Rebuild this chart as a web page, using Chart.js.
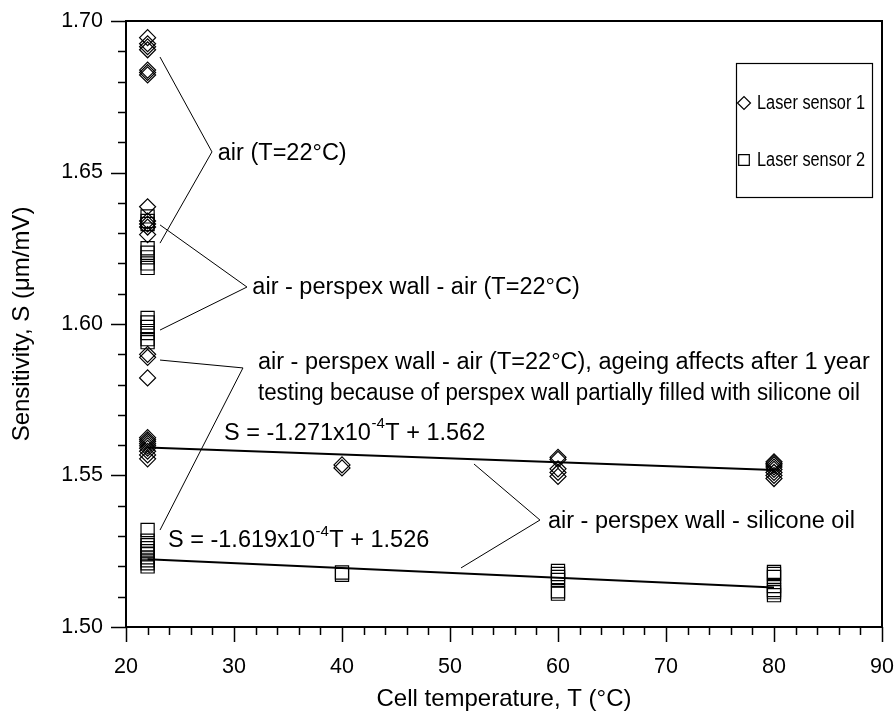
<!DOCTYPE html>
<html><head><meta charset="utf-8">
<script src="https://cdn.jsdelivr.net/npm/chart.js@4/dist/chart.umd.min.js"></script>
<style>html,body{margin:0;padding:0;background:#fff}canvas{display:block}</style>
</head><body>
<canvas id="c" width="896" height="715"></canvas>
<script>
const FONT = '"Liberation Sans", Arial, Helvetica, sans-serif';

// ---------- data ----------
const seriesLabels = ['Laser sensor 1', 'Laser sensor 2'];
const temps = [22, 40, 60, 80];
// Laser sensor 1 (diamonds)
const s1At22 = [1.6945, 1.6925, 1.6915, 1.6905, 1.6838, 1.6830, 1.6822,
                1.6387, 1.6340, 1.6330, 1.6320, 1.6295,
                1.5900, 1.5890, 1.5822,
                1.5625, 1.5618, 1.5612, 1.5605, 1.5598, 1.5590, 1.5580, 1.5568, 1.5555];
const s1At40 = [1.5535, 1.5525];
const s1At60 = [1.5560, 1.5553, 1.5522, 1.5510, 1.5497];
const s1At80 = [1.5545, 1.5540, 1.5535, 1.5528, 1.5520, 1.5510, 1.5500, 1.5490];
// Laser sensor 2 (squares)
const s2At22 = [1.6355, 1.6340, 1.6330, 1.6250, 1.6235, 1.6220, 1.6200, 1.6185,
                1.6020, 1.6005, 1.5990, 1.5970, 1.5950, 1.5940,
                1.5320, 1.5285, 1.5270, 1.5260, 1.5250, 1.5240, 1.5230, 1.5220, 1.5210, 1.5200];
const s2At40 = [1.5180, 1.5172];
const s2At60 = [1.5185, 1.5175, 1.5165, 1.5155, 1.5118, 1.5110];
const s2At80 = [1.5182, 1.5175, 1.5165, 1.5135, 1.5122, 1.5115, 1.5105];
// linear fits (end points)
const fitT = [22, 80];
const fit1S = [1.5592, 1.5518];
const fit2S = [1.5224, 1.5130];
// tick labels
const xTickLabels = ['20', '30', '40', '50', '60', '70', '80', '90'];
const yTickLabels = ['1.50', '1.55', '1.60', '1.65', '1.70'];

// ---------- build datasets ----------
function pts(groups) {
  const out = [];
  groups.forEach((arr, i) => arr.forEach(v => out.push({x: temps[i], y: v})));
  return out;
}
const s1Data = pts([s1At22, s1At40, s1At60, s1At80]);
const s2Data = pts([s2At22, s2At40, s2At60, s2At80]);
const fit1Data = fitT.map((t, i) => ({x: t, y: fit1S[i]}));
const fit2Data = fitT.map((t, i) => ({x: t, y: fit2S[i]}));

// ---------- annotations (positions in data units) ----------
const callouts = [
  {v: [27.96, 1.6568], a: [23.15, 1.6881], b: [23.15, 1.6267]},
  {v: [31.2, 1.6122],  a: [23.15, 1.6327], b: [23.15, 1.5980]},
  {v: [30.83, 1.5855], a: [23.15, 1.5881], b: [23.15, 1.5320]},
  {v: [58.33, 1.5353], a: [52.22, 1.5538], b: [51.02, 1.5195]}
];
const texts = [
  {t: 28.5, s: 1.6564, text: 'air (T=22°C)'},
  {t: 31.7, s: 1.6122, text: 'air - perspex wall - air (T=22°C)'},
  {t: 32.22, s: 1.5872, text: 'air - perspex wall - air (T=22°C), ageing affects after 1 year', w: 612},
  {t: 32.22, s: 1.5772, text: 'testing because of perspex wall partially filled with silicone oil', w: 602},
  {t: 59.07, s: 1.5347, text: 'air - perspex wall - silicone oil'}
];
const equations = [
  {t: 29.07, s: 1.5640, pre: 'S = -1.271x10', sup: '-4', post: 'T + 1.562'},
  {t: 23.89, s: 1.5284, pre: 'S = -1.619x10', sup: '-4', post: 'T + 1.526'}
];

const TXT = 23.5;
const EQ = 23.5;
const LEG = 20;

const decorPlugin = {
  id: 'decor',
  afterDraw(chart) {
    const {ctx, chartArea: ca, scales: {x, y}} = chart;
    ctx.save();
    // frame
    ctx.strokeStyle = '#000';
    ctx.lineWidth = 2;
    ctx.strokeRect(ca.left, ca.top, ca.right - ca.left, ca.bottom - ca.top);
    // ticks
    ctx.lineWidth = 1.5;
    ctx.beginPath();
    x.ticks.forEach(tk => {
      const px = Math.round(x.getPixelForValue(tk.value)) + 0.5;
      const major = Math.round(tk.value) % 10 === 0;
      ctx.moveTo(px, ca.bottom);
      ctx.lineTo(px, ca.bottom + (major ? 15 : 8));
    });
    y.ticks.forEach(tk => {
      const py = Math.round(y.getPixelForValue(tk.value)) + 0.5;
      const major = Math.round(tk.value * 100) % 5 === 0;
      ctx.moveTo(ca.left, py);
      ctx.lineTo(ca.left - (major ? 15 : 8), py);
    });
    ctx.stroke();

    // callout lines
    ctx.lineWidth = 1;
    ctx.beginPath();
    callouts.forEach(c => {
      ctx.moveTo(x.getPixelForValue(c.a[0]), y.getPixelForValue(c.a[1]));
      ctx.lineTo(x.getPixelForValue(c.v[0]), y.getPixelForValue(c.v[1]));
      ctx.lineTo(x.getPixelForValue(c.b[0]), y.getPixelForValue(c.b[1]));
    });
    ctx.stroke();

    // texts
    ctx.fillStyle = '#000';
    ctx.textBaseline = 'middle';
    ctx.textAlign = 'left';
    ctx.font = TXT + 'px ' + FONT;
    texts.forEach(t => {
      if (t.w) ctx.fillText(t.text, x.getPixelForValue(t.t), y.getPixelForValue(t.s), t.w);
      else ctx.fillText(t.text, x.getPixelForValue(t.t), y.getPixelForValue(t.s));
    });
    equations.forEach(e => {
      let px = x.getPixelForValue(e.t);
      const py = y.getPixelForValue(e.s);
      ctx.font = EQ + 'px ' + FONT;
      ctx.fillText(e.pre, px, py);
      px += ctx.measureText(e.pre).width;
      ctx.font = '15px ' + FONT;
      ctx.fillText(e.sup, px + 0.5, py - 9);
      px += ctx.measureText(e.sup).width + 1;
      ctx.font = EQ + 'px ' + FONT;
      ctx.fillText(e.post, px, py);
    });

    // legend
    const bx = ca.right - 146, by = ca.top + 42, bw = 136, bh = 134;
    ctx.lineWidth = 1.2;
    ctx.strokeRect(bx + 0.5, by + 0.5, bw, bh);
    const styles = [
      {pointStyle: 'rectRot', radius: 6.5, borderWidth: 1.2},
      {pointStyle: 'rect', radius: 7.5, borderWidth: 1.2}
    ];
    const rows = [by + 40, by + 97];
    seriesLabels.forEach((lab, i) => {
      ctx.strokeStyle = '#000';
      ctx.fillStyle = 'rgba(0,0,0,0)';
      Chart.helpers.drawPoint(ctx, styles[i], bx + 8, rows[i]);
      ctx.fillStyle = '#000';
      ctx.font = LEG + 'px ' + FONT;
      ctx.fillText(lab, bx + 21, rows[i], 108);
    });
    ctx.restore();
  }
};

new Chart(document.getElementById('c'), {
  type: 'scatter',
  data: {
    datasets: [
      {label: seriesLabels[0], data: s1Data, pointStyle: 'rectRot', pointRadius: 8,
       borderColor: '#000', backgroundColor: 'rgba(0,0,0,0)', pointBorderWidth: 1.2, showLine: false},
      {label: seriesLabels[1], data: s2Data, pointStyle: 'rect', pointRadius: 9.3,
       borderColor: '#000', backgroundColor: 'rgba(0,0,0,0)', pointBorderWidth: 1.2, showLine: false},
      {label: 'fit 1', data: fit1Data, showLine: true, pointRadius: 0, borderColor: '#000', borderWidth: 2},
      {label: 'fit 2', data: fit2Data, showLine: true, pointRadius: 0, borderColor: '#000', borderWidth: 2}
    ]
  },
  options: {
    responsive: false,
    animation: false,
    devicePixelRatio: 1,
    layout: {padding: {top: 21, right: 14, left: 0, bottom: 0}},
    plugins: {legend: {display: false}, tooltip: {enabled: false}},
    scales: {
      x: {
        type: 'linear', min: 20, max: 90,
        grid: {display: false, drawTicks: false},
        border: {display: false},
        ticks: {
          stepSize: 2, autoSkip: false, maxRotation: 0, padding: 27,
          color: '#000', font: {family: FONT, size: 21.5},
          callback: v => {
            const k = Math.round(v);
            return k % 10 === 0 ? xTickLabels[(k - 20) / 10] : '';
          }
        },
        title: {display: true, text: 'Cell temperature, T (°C)', color: '#000',
                font: {family: FONT, size: 24}, padding: {top: 0, bottom: 1}},
        afterFit: s => { s.height = 88; s.paddingLeft = 0; s.paddingRight = 0; s.paddingTop = 0; s.paddingBottom = 0; }
      },
      y: {
        type: 'linear', min: 1.5, max: 1.7,
        grid: {display: false, drawTicks: false},
        border: {display: false},
        ticks: {
          stepSize: 0.01, autoSkip: false, padding: 23,
          color: '#000', font: {family: FONT, size: 21.5},
          callback: v => {
            const k = Math.round(v * 100);
            return k % 5 === 0 ? yTickLabels[(k - 150) / 5] : '';
          }
        },
        title: {display: true, text: 'Sensitivity, S (μm/mV)', color: '#000',
                font: {family: FONT, size: 24}, padding: {top: 8, bottom: 0}},
        afterFit: s => { s.width = 126; s.paddingLeft = 0; s.paddingRight = 0; s.paddingTop = 0; s.paddingBottom = 0; }
      }
    }
  },
  plugins: [decorPlugin]
});
</script>
</body></html>
